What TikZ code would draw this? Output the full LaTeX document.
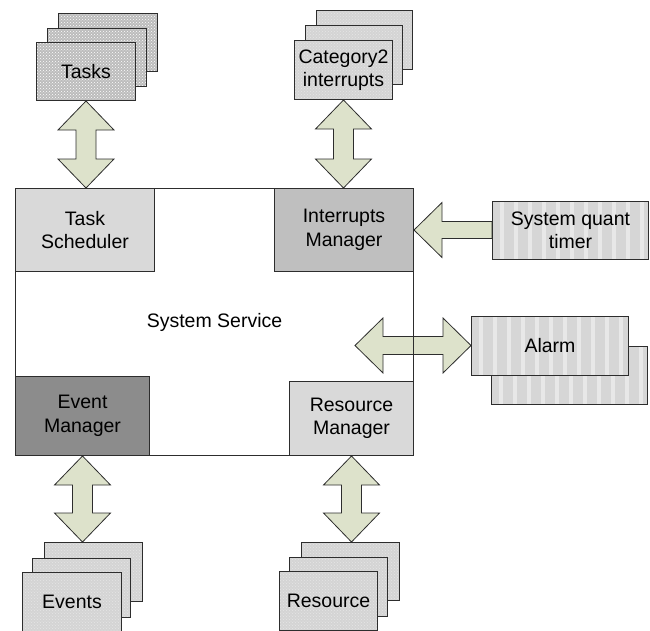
\documentclass[tikz,border=0pt]{standalone}
\usepackage{fontspec}
\setmainfont{Liberation Sans}
\usetikzlibrary{patterns,calc,backgrounds}

\definecolor{edge}{RGB}{45,45,45}
\definecolor{arrowfill}{RGB}{221,226,203}
\definecolor{lightbox}{RGB}{217,217,217}
\definecolor{midbox}{RGB}{191,191,191}
\definecolor{darkbox}{RGB}{140,140,140}
\definecolor{checkbase}{RGB}{188,188,188}
\definecolor{dotbase}{RGB}{212,212,212}
\definecolor{dotlight}{RGB}{230,230,230}
\definecolor{stripebase}{RGB}{214,214,214}

\tikzset{
  box/.style={draw=edge, line width=1pt, align=center, inner sep=0pt,
    anchor=north west},
  plain/.style={box, fill=#1},
  checked/.style={box, preaction={fill=checkbase}, pattern=crosshatch dots,
    pattern color=white},
  dotted box/.style={box, preaction={fill=dotbase}, pattern=crosshatch dots,
    pattern color=dotlight},
  striped/.style={box, fill=stripebase,
    path picture={\foreach \k in {0,...,12}{
      \fill[white, opacity=.45]
        ($(path picture bounding box.south west)+(\k*14+7,0)$) rectangle
        ($(path picture bounding box.north west)+(\k*14+11,0)$);}}},
  block/.style={draw=edge, fill=arrowfill, line width=0.8pt, line join=miter},
  % vertical double block arrow between two points (top to bottom)
  blockv/.style={block, to path={let \p1=(\tikztostart), \p2=(\tikztotarget) in
    (\x1,\y1) -- (\x1+28pt,\y1-29pt) -- (\x1+10pt,\y1-29pt)
    -- (\x1+10pt,\y2+29pt) -- (\x1+28pt,\y2+29pt) -- (\x1,\y2)
    -- (\x1-28pt,\y2+29pt) -- (\x1-10pt,\y2+29pt)
    -- (\x1-10pt,\y1-29pt) -- (\x1-28pt,\y1-29pt) -- cycle}},
  % horizontal double block arrow between two points (left to right)
  blockh/.style={block, to path={let \p1=(\tikztostart), \p2=(\tikztotarget) in
    (\x1,\y1) -- (\x1+28pt,\y1+27.5pt) -- (\x1+28pt,\y1+9pt)
    -- (\x2-28pt,\y1+9pt) -- (\x2-28pt,\y1+27.5pt) -- (\x2,\y1)
    -- (\x2-28pt,\y1-27.5pt) -- (\x2-28pt,\y1-9pt)
    -- (\x1+28pt,\y1-9pt) -- (\x1+28pt,\y1-27.5pt) -- cycle}},
  % single block arrow, tip at the start point, tail at the target
  blockl/.style={block, to path={let \p1=(\tikztostart), \p2=(\tikztotarget) in
    (\x1,\y1) -- (\x1+28pt,\y1+27.5pt) -- (\x1+28pt,\y1+8.5pt)
    -- (\x2,\y1+8.5pt) -- (\x2,\y1-8.5pt) -- (\x1+28pt,\y1-8.5pt)
    -- (\x1+28pt,\y1-27.5pt) -- cycle}}
}

\begin{document}
\begin{tikzpicture}[x=1pt, y=-1pt, font=\fontsize{19.5}{23.5}\selectfont]
\useasboundingbox (0,0) rectangle (650,630);

% the system service frame
\node[box, minimum width=398pt, minimum height=267pt] (sys) at (15,188)
  {System Service};

% inner managers
\node[plain=lightbox, minimum width=139pt, minimum height=83pt] (ts) at (15,188)
  {Task\\Scheduler};
\node[plain=midbox, minimum width=139pt, minimum height=83pt] (im) at (274,188)
  {Interrupts\\Manager};
\node[plain=darkbox, minimum width=134pt, minimum height=79pt] (em) at (15,376)
  {Event\\Manager};
\node[plain=lightbox, minimum width=124pt, minimum height=74pt] (rm) at (289,381)
  {Resource\\Manager};

% tasks stack
\node[checked, minimum width=99pt, minimum height=58pt] (tk3) at (58,13) {};
\node[checked, minimum width=99pt, minimum height=58pt] (tk2) at (47,28) {};
\node[checked, minimum width=99pt, minimum height=58pt] (tk) at (36,42) {Tasks};

% category 2 interrupts stack
\node[dotted box, minimum width=96pt, minimum height=59pt] (ci3) at (316,10) {};
\node[dotted box, minimum width=97pt, minimum height=59pt] (ci2) at (305,25) {};
\node[dotted box, minimum width=98pt, minimum height=59pt] (ci) at (294,40)
  {Category2\\interrupts};

% system quant timer
\node[striped, minimum width=156pt, minimum height=58pt] (timer) at (492,201)
  {System quant\\timer};

% alarm stack
\node[striped, minimum width=156pt, minimum height=58pt] (al2) at (491,346) {};
\node[striped, minimum width=157pt, minimum height=59pt] (alarm) at (471,316)
  {Alarm};

% events stack
\node[dotted box, minimum width=98pt, minimum height=59pt] (ev3) at (44,542) {};
\node[dotted box, minimum width=98pt, minimum height=59pt] (ev2) at (32,558) {};
\node[dotted box, minimum width=99pt, minimum height=59pt] (ev) at (22,572)
  {Events};

% resource stack
\node[dotted box, minimum width=98pt, minimum height=58pt] (rs3) at (301,542) {};
\node[dotted box, minimum width=98pt, minimum height=59pt] (rs2) at (289,557) {};
\node[dotted box, minimum width=98pt, minimum height=59pt] (rs) at (279,571)
  {Resource};

\coordinate (atip) at (355,345.5);

% block arrows sit behind the boxes
\begin{scope}[on background layer]
  \draw[blockv] (tk.south) to (ts.north);
  \draw[blockv] (ci.south) to (im.north);
  \draw[blockv] (em.south) to (em.south |- ev3.north);
  \draw[blockv] (rm.south) to (rm.south |- rs3.north);
  \draw[blockh] (atip) to (alarm.west);
  \draw[blockl] (im.east) to (timer.west);
\end{scope}
\end{tikzpicture}
\end{document}
